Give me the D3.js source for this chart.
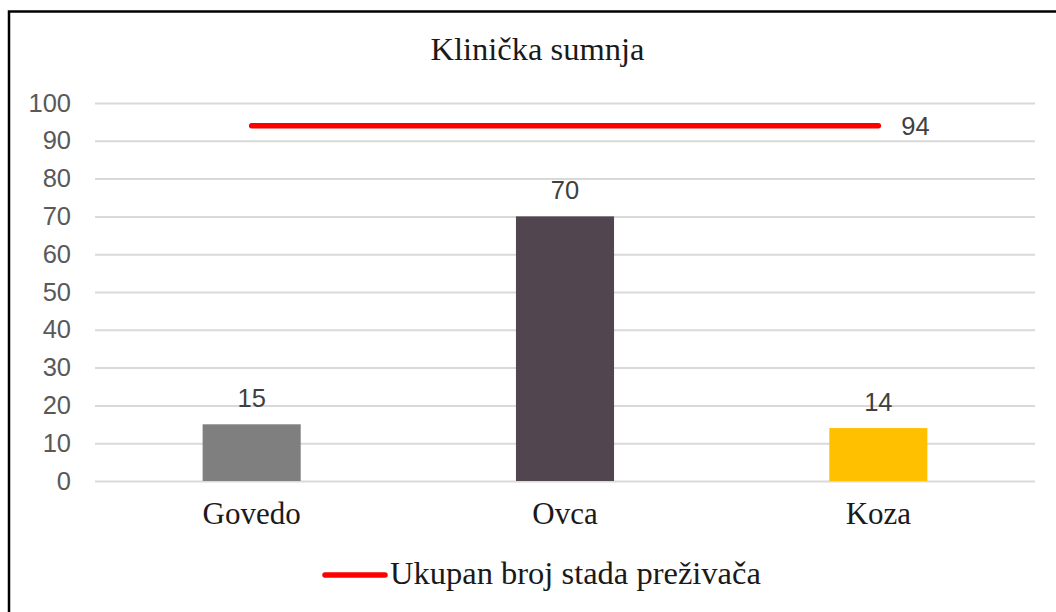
<!DOCTYPE html>
<html>
<head>
<meta charset="utf-8">
<script src="https://cdn.jsdelivr.net/npm/d3@7"></script>
<style>
  html, body { margin: 0; padding: 0; background: #fff; }
  svg { display: block; }
</style>
</head>
<body>
<div id="chart"></div>
<script>
// --- Data ---
const categories = ["Govedo", "Ovca", "Koza"];
const suspicionValues = [15, 70, 14];
const totalHerds = [94, 94, 94];
const yTicks = [0, 10, 20, 30, 40, 50, 60, 70, 80, 90, 100];
const barColors = ["#7f7f7f", "#514550", "#ffc000"];
const chartTitle = "Klinička sumnja";
const lineLabel = "Ukupan broj stada preživača";

// --- Setup ---
const W = 1056, H = 612;
const plot = { left: 95, right: 1035, top: 103, bottom: 481 };
const serif = "'Liberation Serif', 'Times New Roman', serif";
const sans = "'Liberation Sans', Arial, sans-serif";

const svg = d3.select("#chart").append("svg")
    .attr("width", W)
    .attr("height", H);

// frame (top and left edges only visible)
svg.append("path")
    .attr("d", `M9,${H} V11.5 H${W}`)
    .attr("fill", "none")
    .attr("stroke", "#000")
    .attr("stroke-width", 2.5);

const x = d3.scaleBand()
    .domain(categories)
    .range([plot.left, plot.right])
    .paddingInner(0.687)
    .paddingOuter(0.3435);

const y = d3.scaleLinear()
    .domain([0, 100])
    .range([plot.bottom, plot.top]);

const cx = d => x(d) + x.bandwidth() / 2;

// title
svg.append("text")
    .attr("x", (430 + 645) / 2)
    .attr("y", 60)
    .attr("text-anchor", "middle")
    .attr("font-family", serif)
    .attr("font-size", 32.5)
    .attr("fill", "#1a1a1a")
    .text(chartTitle);

// gridlines + y labels
const yAxis = d3.axisLeft(y)
    .tickValues(yTicks)
    .tickSize(-(plot.right - plot.left))
    .tickPadding(24);

const gy = svg.append("g")
    .attr("transform", `translate(${plot.left},0)`)
    .call(yAxis);
gy.select(".domain").remove();
gy.selectAll(".tick line")
    .attr("stroke", "#d9d9d9")
    .attr("stroke-width", 2);
gy.selectAll(".tick text")
    .attr("font-family", sans)
    .attr("font-size", 25.5)
    .attr("fill", "#595959");

// bars
svg.append("g")
    .selectAll("rect")
    .data(categories)
    .join("rect")
        .attr("x", d => x(d))
        .attr("y", (d, i) => y(suspicionValues[i]))
        .attr("width", x.bandwidth())
        .attr("height", (d, i) => y(0) - y(suspicionValues[i]))
        .attr("fill", (d, i) => barColors[i]);

// bar value labels
svg.append("g")
    .selectAll("text")
    .data(categories)
    .join("text")
        .attr("x", d => cx(d))
        .attr("y", (d, i) => y(suspicionValues[i]) - 17)
        .attr("text-anchor", "middle")
        .attr("font-family", sans)
        .attr("font-size", 25.5)
        .attr("fill", "#404040")
        .text((d, i) => suspicionValues[i]);

// total herds line
const line = d3.line()
    .x(d => cx(d))
    .y((d, i) => y(totalHerds[i]));

svg.append("path")
    .datum(categories)
    .attr("d", line)
    .attr("fill", "none")
    .attr("stroke", "#ff0000")
    .attr("stroke-width", 5.5)
    .attr("stroke-linecap", "round");

const last = categories.length - 1;
svg.append("text")
    .attr("x", cx(categories[last]) + 23)
    .attr("y", y(totalHerds[last]) + 9)
    .attr("font-family", sans)
    .attr("font-size", 25.5)
    .attr("fill", "#404040")
    .text(totalHerds[last]);

// category labels
svg.append("g")
    .selectAll("text")
    .data(categories)
    .join("text")
        .attr("x", d => cx(d))
        .attr("y", 524)
        .attr("text-anchor", "middle")
        .attr("font-family", serif)
        .attr("font-size", 31)
        .attr("fill", "#1a1a1a")
        .text(d => d);

// legend
const legend = svg.append("g").attr("transform", "translate(325,575)");
legend.append("line")
    .attr("x1", 0).attr("x2", 60)
    .attr("y1", 0).attr("y2", 0)
    .attr("stroke", "#ff0000")
    .attr("stroke-width", 5.5)
    .attr("stroke-linecap", "round");
legend.append("text")
    .attr("x", 65)
    .attr("y", 9)
    .attr("font-family", serif)
    .attr("font-size", 32.5)
    .attr("fill", "#1a1a1a")
    .text(lineLabel);
</script>
</body>
</html>
